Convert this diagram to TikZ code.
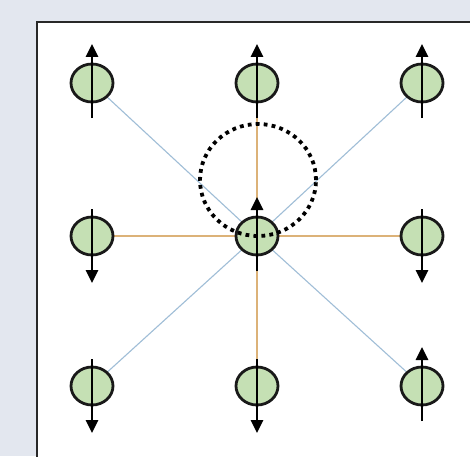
\documentclass[tikz,border=0pt]{standalone}
\usetikzlibrary{shapes.geometric,arrows.meta,backgrounds}
\definecolor{bgc}{RGB}{227,231,239}
\definecolor{boxline}{RGB}{40,40,40}
\definecolor{bluel}{RGB}{160,190,215}
\definecolor{orangel}{RGB}{220,178,120}
\definecolor{spinfill}{RGB}{197,224,180}
\begin{document}
\begin{tikzpicture}[x=1pt,y=1pt,
  site/.style={ellipse,draw=black!90,line width=2.8pt,fill=spinfill,minimum width=42pt,minimum height=38pt,inner sep=0pt},
  diag/.style={draw=bluel,line width=1.1pt},
  axis/.style={draw=orangel,line width=1.1pt},
  spin/.style={draw=black,line width=2.8pt,-{Triangle[width=12pt,length=13pt]}},
  loopring/.style={ellipse,draw=black,line width=3.8pt,dash pattern=on 3.8pt off 4.2pt,minimum width=116pt,minimum height=112pt,inner sep=0pt}]
\clip (0,0) rectangle (470,456);
% sites
\node[site] (n11) at (92,373) {};
\node[site] (n12) at (257,373) {};
\node[site] (n13) at (422,373) {};
\node[site] (n21) at (92,220) {};
\node[site] (c)   at (257,220) {};
\node[site] (n23) at (422,220) {};
\node[site] (n31) at (92,70) {};
\node[site] (n32) at (257,70) {};
\node[site] (n33) at (422,70) {};
\begin{pgfonlayer}{background}
\fill[bgc] (0,0) rectangle (470,456);
\draw[boxline,fill=white,line width=2pt] (37,-20) rectangle (500,434);
\draw[diag] (c) -- (n11);
\draw[diag] (c) -- (n13);
\draw[diag] (c) -- (n31);
\draw[diag] (c) -- (n33);
\draw[axis] (c) -- (n12);
\draw[axis] (c) -- (n32);
\draw[axis] (c) -- (n21);
\draw[axis] (c) -- (n23);
\end{pgfonlayer}
% spins up
\foreach \n in {n11,n12,n13,c,n33}{
  \draw[spin] ([yshift=-35pt]\n.center) -- ([yshift=39pt]\n.center);
}
% spins down
\foreach \n in {n21,n23,n31,n32}{
  \draw[spin] ([yshift=27pt]\n.center) -- ([yshift=-47pt]\n.center);
}
% dotted loop
\node[loopring] (ring) at (258,276) {};
\end{tikzpicture}
\end{document}
